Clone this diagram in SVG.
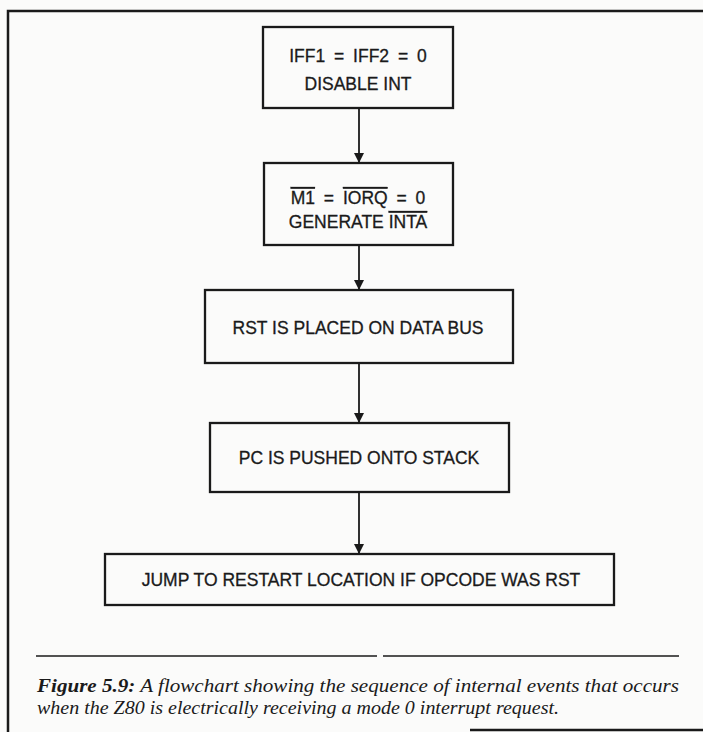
<svg xmlns="http://www.w3.org/2000/svg" width="703" height="732" viewBox="0 0 703 732">
<defs>
<style>
.frame{fill:none;stroke:#1a1a1a;stroke-width:2.5}
.box{fill:none;stroke:#1a1a1a;stroke-width:2.3}
.lbl{font-family:"Liberation Sans",Arial,sans-serif;font-size:17.5px;fill:#1a1a1a;stroke:#1a1a1a;stroke-width:0.3;text-anchor:middle}
.eq{word-spacing:4px}
.ov{text-decoration:overline}
.conn{stroke:#1a1a1a;stroke-width:1.8;fill:none}
.cap{font-family:"Liberation Serif","Times New Roman",serif;font-style:italic;font-size:19px;fill:#1a1a1a}
.sep{stroke:#1a1a1a;stroke-width:1.5}
</style>
<marker id="ah" viewBox="0 0 10 16" refX="10" refY="8" markerWidth="10" markerHeight="16" markerUnits="userSpaceOnUse" orient="auto">
<path d="M0,3 L10,8 L0,13 Z" fill="#1a1a1a"/>
</marker>
</defs>
<rect width="703" height="732" fill="#fbfbfa"/>
<path class="frame" d="M8,732 V11 H703"/>
<line class="frame" x1="470" y1="730" x2="703" y2="730"/>

<g id="n1">
<rect class="box" x="263" y="27" width="190" height="81"/>
<text class="lbl eq" x="358" y="62">IFF1 = IFF2 = 0</text>
<text class="lbl" x="358" y="90">DISABLE INT</text>
</g>
<g id="n2">
<rect class="box" x="264" y="163" width="189" height="82"/>
<text class="lbl eq" x="358" y="204"><tspan class="ov">M1</tspan> = <tspan class="ov">IORQ</tspan> = 0</text>
<text class="lbl" x="358" y="228">GENERATE <tspan class="ov">INTA</tspan></text>
</g>
<g id="n3">
<rect class="box" x="205" y="290" width="308" height="73"/>
<text class="lbl" x="358" y="334">RST IS PLACED ON DATA BUS</text>
</g>
<g id="n4">
<rect class="box" x="210" y="423" width="299" height="69"/>
<text class="lbl" x="359" y="464">PC IS PUSHED ONTO STACK</text>
</g>
<g id="n5">
<rect class="box" x="105" y="554" width="509" height="51"/>
<text class="lbl" x="361" y="586">JUMP TO RESTART LOCATION IF OPCODE WAS RST</text>
</g>

<g id="connectors">
<line class="conn" x1="359" y1="108" x2="359" y2="163" marker-end="url(#ah)"/>
<line class="conn" x1="359" y1="245" x2="359" y2="290" marker-end="url(#ah)"/>
<line class="conn" x1="359" y1="363" x2="359" y2="423" marker-end="url(#ah)"/>
<line class="conn" x1="359" y1="492" x2="359" y2="554" marker-end="url(#ah)"/>
</g>

<g id="caption">
<line class="sep" x1="36" y1="656" x2="377" y2="656"/>
<line class="sep" x1="383" y1="656" x2="679" y2="656"/>
<text class="cap" x="37" y="692" textLength="642" lengthAdjust="spacingAndGlyphs"><tspan font-weight="bold">Figure 5.9:</tspan> A flowchart showing the sequence of internal events that occurs</text>
<text class="cap" x="37" y="714" textLength="522" lengthAdjust="spacingAndGlyphs">when the Z80 is electrically receiving a mode 0 interrupt request.</text>
</g>
</svg>
